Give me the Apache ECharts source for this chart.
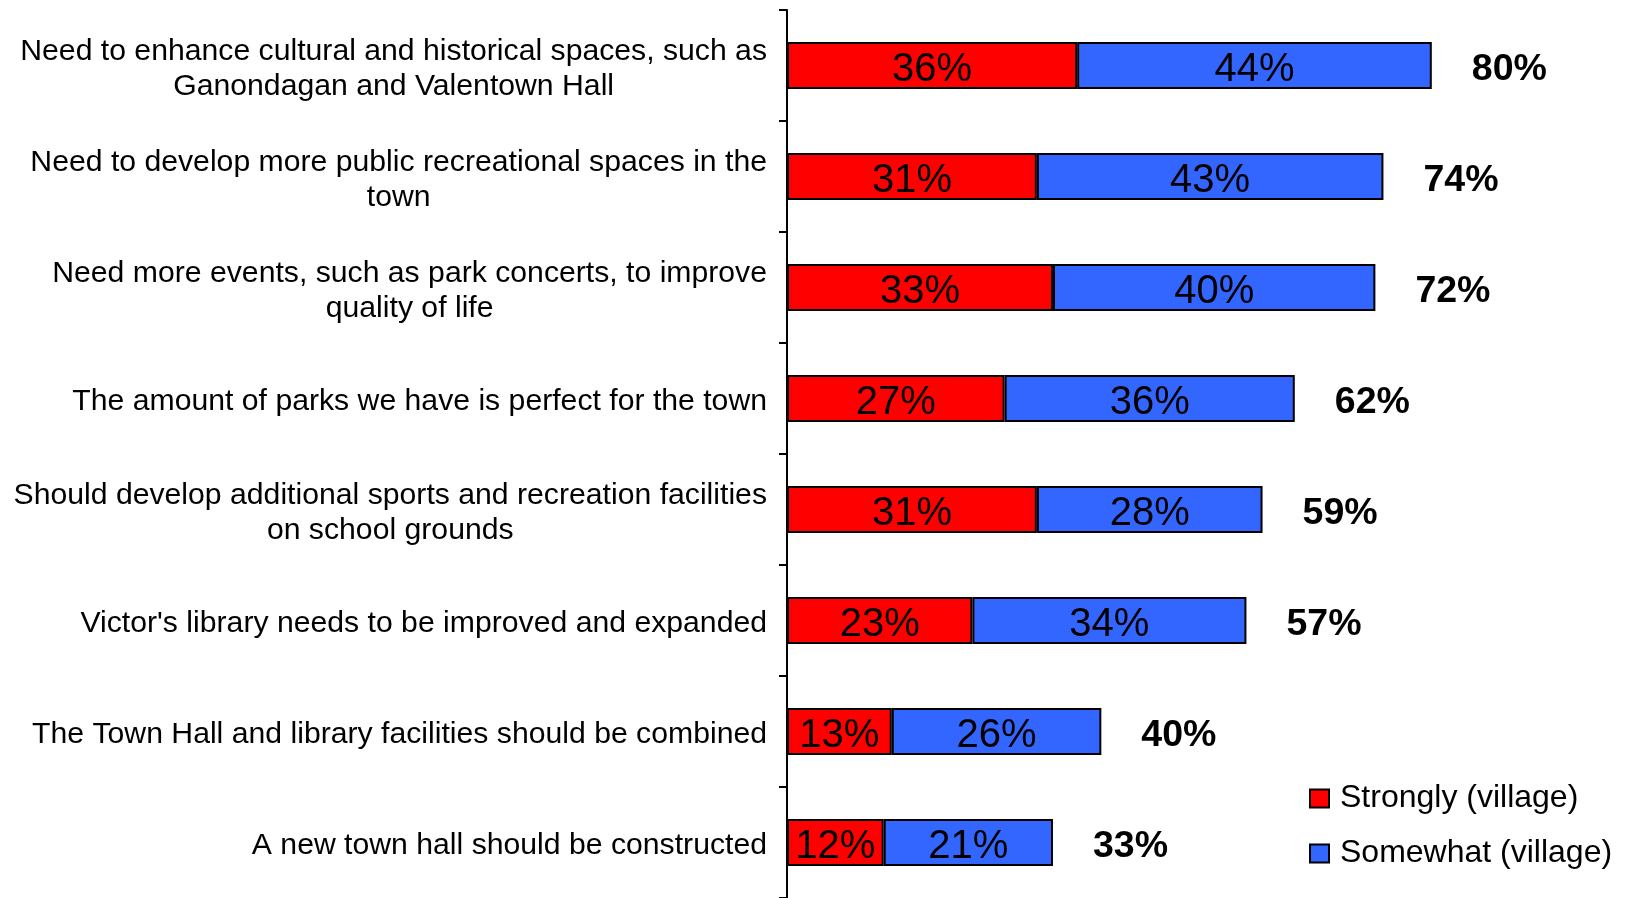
<!DOCTYPE html>
<html>
<head>
<meta charset="utf-8">
<script src="https://cdn.jsdelivr.net/npm/echarts@6/dist/echarts.min.js"></script>
<style>
html,body{margin:0;padding:0;background:#fff;}
#chart{width:1625px;height:898px;}
</style>
</head>
<body>
<div id="chart"></div>
<script>
const categories = [
  "Need to enhance cultural and historical spaces, such as\nGanondagan and Valentown Hall",
  "Need to develop more public recreational spaces in the\ntown",
  "Need more events, such as park concerts, to improve\nquality of life",
  "The amount of parks we have is perfect for the town",
  "Should develop additional sports and recreation facilities\non school grounds",
  "Victor's library needs to be improved and expanded",
  "The Town Hall and library facilities should be combined",
  "A new town hall should be constructed"
];
const strongly = [36, 31, 33, 27, 31, 23, 13, 12];
const somewhat = [44, 43, 40, 36, 28, 34, 26, 21];
const totals = [80, 74, 72, 62, 59, 57, 40, 33];
const totalBase = [0, 0, 0, 0, 0, 0, 0, 0];

const FONT = "'Liberation Sans', Arial, sans-serif";
const chart = echarts.init(document.getElementById('chart'));
chart.setOption({
  animation: false,
  backgroundColor: '#ffffff',
  grid: { left: 787, right: 32, top: 10, bottom: 0, containLabel: false },
  legend: {
    orient: 'vertical',
    left: 1309,
    top: 781,
    padding: 0,
    itemWidth: 19,
    itemHeight: 18,
    itemGap: 20,
    icon: 'rect',
    data: ['Strongly (village)', 'Somewhat (village)'],
    textStyle: { fontSize: 32, lineHeight: 32, color: '#000', fontFamily: FONT, padding: [3, 0, 0, 6] }
  },
  xAxis: { type: 'value', min: 0, max: 100, show: false },
  yAxis: {
    type: 'category',
    inverse: true,
    data: categories,
    axisLine: { show: true, lineStyle: { color: '#000', width: 2 } },
    axisTick: { show: true, length: 8, lineStyle: { color: '#000', width: 2 } },
    splitLine: { show: false },
    axisLabel: {
      margin: 20,
      padding: [7, 0, 0, 0],
      formatter: function (v) { return '{c|' + v + '}'; },
      rich: {
        c: { fontSize: 30.2, lineHeight: 35, align: 'center', color: '#000', fontFamily: FONT }
      }
    }
  },
  series: [
    {
      name: 'Strongly (village)',
      type: 'bar',
      stack: 'all',
      barWidth: 47,
      data: strongly,
      itemStyle: { color: '#FF0000', borderColor: '#000', borderWidth: 2 },
      label: { show: true, position: 'inside', offset: [0, 4], formatter: '{c}%', fontSize: 40, color: '#000', fontFamily: FONT }
    },
    {
      name: 'Somewhat (village)',
      type: 'bar',
      stack: 'all',
      barWidth: 47,
      data: somewhat,
      itemStyle: { color: '#3366FF', borderColor: '#000', borderWidth: 2 },
      label: { show: true, position: 'inside', offset: [0, 4], formatter: '{c}%', fontSize: 40, color: '#000', fontFamily: FONT }
    },
    {
      name: 'Total',
      type: 'bar',
      stack: 'all',
      barWidth: 47,
      data: totalBase,
      itemStyle: { color: 'rgba(0,0,0,0)', borderWidth: 0 },
      label: {
        show: true, position: 'right', distance: 40, offset: [0, 4],
        formatter: function (p) { return totals[p.dataIndex] + '%'; },
        fontSize: 37.5, fontWeight: 'bold', color: '#000', fontFamily: FONT
      }
    }
  ]
});
</script>
</body>
</html>
